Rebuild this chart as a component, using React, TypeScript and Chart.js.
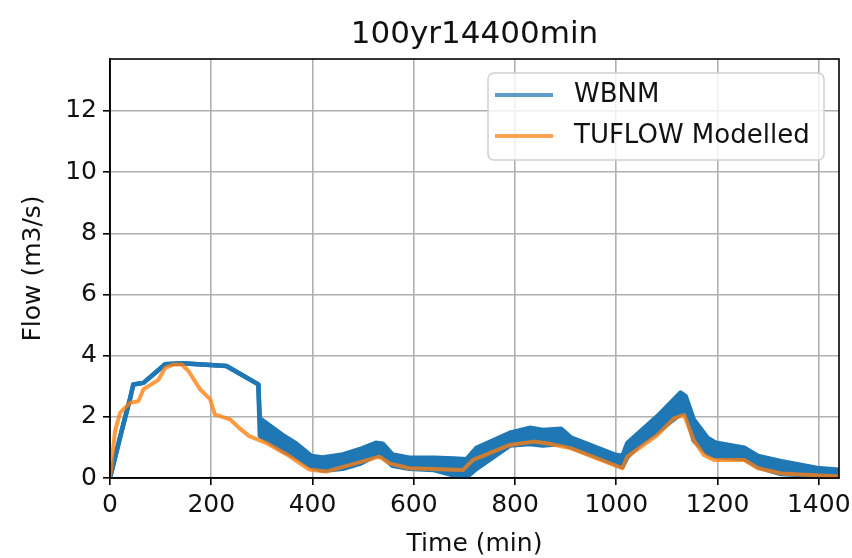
import React, { useEffect, useRef } from "react";
import { Chart, registerables } from "chart.js";

Chart.register(...registerables);

const chartTitle = "100yr14400min";
const xAxisLabel = "Time (min)";
const yAxisLabel = "Flow (m3/s)";
const seriesNames = ["WBNM", "TUFLOW Modelled"];

const xTicks = [0, 200, 400, 600, 800, 1000, 1200, 1400];
const yTicks = [0, 2, 4, 6, 8, 10, 12];

// WBNM is drawn as a band (upper / lower envelope)
const wbnmTime = [
  0, 23, 40, 46, 66, 86, 109, 142, 230, 293, 296, 340, 366, 398, 420, 460, 493, 525, 539, 558,
  591, 640, 680, 704, 724, 790, 829, 855, 891, 911, 996, 1012, 1022, 1048, 1081, 1127, 1137,
  1153, 1180, 1197, 1253, 1280, 1326, 1397, 1440,
];
const wbnmUpper = [
  0, 1.54, 2.62, 3.06, 3.11, 3.39, 3.72, 3.75, 3.66, 3.06, 1.95, 1.42, 1.15, 0.72, 0.67, 0.77, 0.94,
  1.15, 1.12, 0.77, 0.66, 0.66, 0.64, 0.61, 0.99, 1.48, 1.64, 1.57, 1.61, 1.32, 0.77, 0.72, 1.15,
  1.53, 2.02, 2.79, 2.68, 1.92, 1.32, 1.15, 0.99, 0.72, 0.55, 0.33, 0.27,
];
const wbnmLower = [
  0, 1.54, 2.62, 3.06, 3.11, 3.39, 3.72, 3.75, 3.66, 3.06, 1.38, 0.9, 0.68, 0.35, 0.24, 0.3, 0.46,
  0.73, 0.68, 0.4, 0.3, 0.26, 0.08, 0.02, 0.3, 1.06, 1.11, 1.06, 1.11, 1.0, 0.46, 0.35, 0.68,
  1.11, 1.49, 2.09, 2.13, 1.22, 0.79, 0.68, 0.62, 0.35, 0.13, 0.07, 0.07,
];

const tuflowTime = [
  0, 10, 20, 30, 40, 56, 66, 86, 95, 109, 125, 142, 155, 178, 198, 207, 237, 255, 275, 308, 349,
  393, 427, 473, 532, 552, 591, 697, 717, 790, 836, 865, 911, 996, 1012, 1022, 1081, 1114, 1134,
  1153, 1173, 1193, 1253, 1280, 1326, 1440,
];
const tuflowFlow = [
  0, 1.54, 2.13, 2.3, 2.46, 2.51, 2.9, 3.11, 3.2, 3.6, 3.71, 3.71, 3.5, 2.9, 2.57, 2.08, 1.92,
  1.64, 1.37, 1.15, 0.77, 0.28, 0.21, 0.42, 0.7, 0.48, 0.32, 0.26, 0.59, 1.08, 1.19, 1.13, 0.97,
  0.42, 0.32, 0.7, 1.4, 1.95, 2.06, 1.24, 0.75, 0.59, 0.59, 0.32, 0.15, 0.05,
];

const FONT = "'DejaVu Sans', sans-serif";
const BLUE = "#1f77b4";
const ORANGE = "rgba(255,127,14,0.78)";

const decorPlugin = {
  id: "decor",
  afterDraw(chart: any) {
    const { ctx, chartArea: a } = chart;
    ctx.save();
    // frame
    ctx.strokeStyle = "#000";
    ctx.lineWidth = 1.6;
    ctx.strokeRect(a.left, a.top, a.right - a.left, a.bottom - a.top);
    // title
    ctx.fillStyle = "#111";
    ctx.textAlign = "center";
    ctx.textBaseline = "alphabetic";
    ctx.font = `31px ${FONT}`;
    ctx.fillText(chartTitle, (a.left + a.right) / 2, 43);
    // x label
    ctx.font = `25px ${FONT}`;
    ctx.fillText(xAxisLabel, (a.left + a.right) / 2, 551);
    // y label
    ctx.save();
    ctx.translate(33, (a.top + a.bottom) / 2);
    ctx.rotate(-Math.PI / 2);
    ctx.textBaseline = "middle";
    ctx.fillText(yAxisLabel, 0, 0);
    ctx.restore();
    // legend
    const bw = 336, bh = 87;
    const bx = a.right - 15 - bw;
    const by = a.top + 14;
    const r = 6;
    ctx.beginPath();
    ctx.moveTo(bx + r, by);
    ctx.lineTo(bx + bw - r, by);
    ctx.arcTo(bx + bw, by, bx + bw, by + r, r);
    ctx.lineTo(bx + bw, by + bh - r);
    ctx.arcTo(bx + bw, by + bh, bx + bw - r, by + bh, r);
    ctx.lineTo(bx + r, by + bh);
    ctx.arcTo(bx, by + bh, bx, by + bh - r, r);
    ctx.lineTo(bx, by + r);
    ctx.arcTo(bx, by, bx + r, by, r);
    ctx.closePath();
    ctx.fillStyle = "rgba(255,255,255,0.8)";
    ctx.fill();
    ctx.strokeStyle = "#d0d0d0";
    ctx.lineWidth = 1.5;
    ctx.stroke();
    const colors = ["rgba(31,119,180,0.72)", "rgba(255,127,14,0.72)"];
    const rows = [by + 22, by + 63];
    ctx.font = `26px ${FONT}`;
    ctx.textAlign = "left";
    ctx.textBaseline = "middle";
    for (let i = 0; i < 2; i++) {
      ctx.strokeStyle = colors[i];
      ctx.lineWidth = 4;
      ctx.beginPath();
      ctx.moveTo(bx + 7, rows[i]);
      ctx.lineTo(bx + 65, rows[i]);
      ctx.stroke();
      ctx.fillStyle = "#111";
      ctx.fillText(seriesNames[i], bx + 86, rows[i]);
    }
    ctx.restore();
  },
};

export default function App() {
  const ref = useRef<HTMLCanvasElement | null>(null);
  useEffect(() => {
    document.body.style.margin = "0";
    if (!ref.current) return;
    const tickFont = { family: FONT, size: 25 };
    const plain = (v: any) => String(v);
    const chart = new Chart(ref.current, {
      type: "line",
      data: {
        datasets: [
          {
            label: seriesNames[0],
            data: wbnmTime.map((t, i) => ({ x: t, y: wbnmUpper[i] })),
            borderColor: BLUE,
            backgroundColor: BLUE,
            borderWidth: 4.5,
            pointRadius: 0,
            fill: false,
            order: 2,
            borderJoinStyle: "round",
          },
          {
            label: seriesNames[0] + " lower",
            data: wbnmTime.map((t, i) => ({ x: t, y: wbnmLower[i] })),
            borderColor: BLUE,
            backgroundColor: BLUE,
            borderWidth: 4.5,
            pointRadius: 0,
            fill: 0,
            order: 2,
            borderJoinStyle: "round",
          },
          {
            label: seriesNames[1],
            data: tuflowTime.map((t, i) => ({ x: t, y: tuflowFlow[i] })),
            borderColor: ORANGE,
            backgroundColor: ORANGE,
            borderWidth: 4,
            pointRadius: 0,
            fill: false,
            order: 0,
            borderJoinStyle: "round",
          },
        ],
      },
      options: {
        responsive: false,
        animation: false,
        events: [],
        layout: { padding: { left: 0, right: 13, top: 59, bottom: 0 } },
        plugins: { legend: { display: false }, tooltip: { enabled: false }, title: { display: false } },
        scales: {
          x: {
            type: "linear",
            min: 0,
            max: 1440,
            afterBuildTicks: (s: any) => {
              s.ticks = xTicks.map((v) => ({ value: v }));
            },
            afterFit: (s: any) => {
              s.height = 80;
              s.paddingLeft = 0;
              s.paddingRight = 0;
            },
            ticks: { font: tickFont, color: "#111", padding: 5, maxRotation: 0, autoSkip: false, includeBounds: false, callback: plain },
            grid: { color: "#b0b0b0", lineWidth: 1.6, tickLength: 7, tickColor: "#000", tickWidth: 1.6 },
            border: { color: "#000", width: 1.6 },
          },
          y: {
            type: "linear",
            min: 0,
            max: 13.7,
            afterBuildTicks: (s: any) => {
              s.ticks = yTicks.map((v) => ({ value: v }));
            },
            afterFit: (s: any) => {
              s.width = 110;
              s.paddingTop = 0;
              s.paddingBottom = 0;
            },
            ticks: { font: tickFont, color: "#111", padding: 6, autoSkip: false, includeBounds: false, callback: plain },
            grid: { color: "#b0b0b0", lineWidth: 1.6, tickLength: 7, tickColor: "#000", tickWidth: 1.6 },
            border: { color: "#000", width: 1.6 },
          },
        },
      },
      plugins: [decorPlugin],
    } as any);
    return () => chart.destroy();
  }, []);
  return (
    <div style={{ position: "absolute", left: 0, top: 0, width: 852, height: 558, background: "#fff" }}>
      <canvas ref={ref} width={852} height={558} style={{ display: "block" }} />
    </div>
  );
}
